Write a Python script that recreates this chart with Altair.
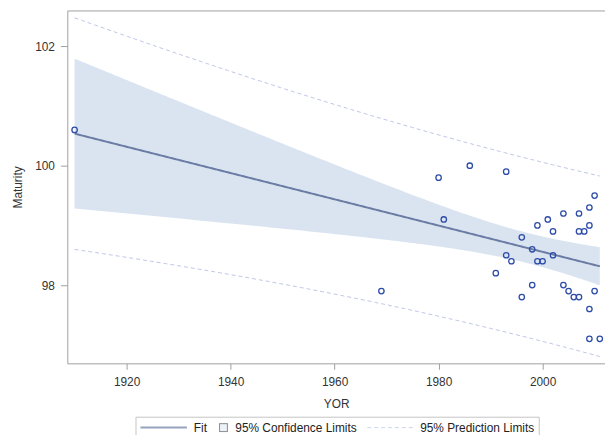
import numpy as np
import pandas as pd
import altair as alt

# ---- data ----
yor = [1910, 1969, 1980, 1981, 1986, 1991, 1993, 1993, 1994, 1996, 1996, 1998,
       1998, 1999, 1999, 2000, 2001, 2002, 2002, 2004, 2004, 2005, 2006, 2007,
       2007, 2007, 2008, 2009, 2009, 2009, 2009, 2010, 2010, 2011]
maturity = [100.6, 97.9, 99.8, 99.1, 100.0, 98.2, 99.9, 98.5, 98.4, 98.8, 97.8, 98.6,
            98.0, 99.0, 98.4, 98.4, 99.1, 98.9, 98.5, 99.2, 98.0, 97.9, 97.8, 97.8,
            99.2, 98.9, 98.9, 99.0, 99.3, 97.6, 97.1, 99.5, 97.9, 97.1]
x_ticks = [1920, 1940, 1960, 1980, 2000]
y_ticks = [98, 100, 102]
legend_names = ["Fit", "95% Confidence Limits", "95% Prediction Limits"]

# ---- linear regression fit with 95% confidence / prediction limits ----
x = np.array(yor, dtype=float)
y = np.array(maturity, dtype=float)
n = len(x)
xbar = x.mean()
sxx = ((x - xbar) ** 2).sum()
b = ((x - xbar) * (y - y.mean())).sum() / sxx
a = y.mean() - b * xbar
s = np.sqrt(((y - a - b * x) ** 2).sum() / (n - 2))
T975 = 2.0369  # t quantile (0.975, df = 32)
grid = np.linspace(x.min(), x.max(), 200)
fit = a + b * grid
se_m = s * np.sqrt(1 / n + (grid - xbar) ** 2 / sxx)
se_p = s * np.sqrt(1 + 1 / n + (grid - xbar) ** 2 / sxx)
fit_df = pd.DataFrame({
    "year": grid, "fit": fit,
    "lclm": fit - T975 * se_m, "uclm": fit + T975 * se_m,
    "lcl": fit - T975 * se_p, "ucl": fit + T975 * se_p,
})
pts_df = pd.DataFrame({"year": yor, "maturity": maturity})
leg_df = pd.DataFrame({"s": legend_names})

FONT = "Liberation Sans"
BAND = "#DAE4F1"
FIT = "#6A7CA3"
PI = "#BCC4E6"
PT = "#2C4CA8"

xscale = alt.Scale(domain=[1908.6, 2012.0], nice=False, zero=False)
yscale = alt.Scale(domain=[96.69, 102.6], nice=False, zero=False)
xaxis = alt.Axis(values=x_ticks, format="d", title="YOR", tickSize=6, labelPadding=7, titlePadding=12)
yaxis = alt.Axis(values=y_ticks, format="d", title="Maturity", tickSize=7, labelPadding=6, titlePadding=10)


def X():
    return alt.X("year:Q", scale=xscale, axis=xaxis)


def Y(field):
    return alt.Y(f"{field}:Q", scale=yscale, axis=yaxis)


band = alt.Chart(fit_df).mark_area(color=BAND, opacity=1).encode(
    x=X(), y=Y("lclm"), y2="uclm")
lpl = alt.Chart(fit_df).mark_line(color=PI, strokeWidth=1, strokeDash=[4, 3]).encode(
    x=X(), y=Y("lcl"))
upl = alt.Chart(fit_df).mark_line(color=PI, strokeWidth=1, strokeDash=[4, 3]).encode(
    x=X(), y=Y("ucl"))
fitline = alt.Chart(fit_df).mark_line(color=FIT, strokeWidth=2).encode(
    x=X(), y=Y("fit"))
points = alt.Chart(pts_df).mark_point(
    shape="circle", filled=False, color=PT, size=30, strokeWidth=1.3, opacity=1
).encode(x=X(), y=Y("maturity"))

leg_scale = dict(domain=legend_names)
legend_layer = alt.Chart(leg_df).mark_point(filled=True, clip=True).encode(
    x=alt.value(-200), y=alt.value(-200),
    shape=alt.Shape("s:N", scale=alt.Scale(range=["stroke", "square", "stroke"], **leg_scale), legend=alt.Legend(title=None)),
    fill=alt.Fill("s:N", scale=alt.Scale(range=["transparent", BAND, "transparent"], **leg_scale), legend=alt.Legend(title=None)),
    stroke=alt.Stroke("s:N", scale=alt.Scale(range=[FIT, "#333333", PI], **leg_scale), legend=alt.Legend(title=None)),
    size=alt.Size("s:N", scale=alt.Scale(type="ordinal", range=[2209, 64, 2209], **leg_scale), legend=alt.Legend(title=None)),
    strokeDash=alt.StrokeDash("s:N", scale=alt.Scale(range=[[1, 0], [1, 0], [4, 3]], **leg_scale), legend=alt.Legend(title=None)),
    strokeWidth=alt.StrokeWidth("s:N", scale=alt.Scale(type="ordinal", range=[2, 1, 1], **leg_scale), legend=alt.Legend(title=None)),
)

chart = alt.layer(band, lpl, upl, fitline, points, legend_layer).properties(
    width=544, height=357,
    autosize=alt.AutoSizeParams(type="none"),
    padding={"left": 60, "top": 0, "right": 0, "bottom": 70},
).configure_view(
    stroke="#A0A0A0", strokeWidth=1
).configure_axis(
    domain=False, grid=False, tickColor="#A0A0A0", tickWidth=1,
    labelFont=FONT, labelFontSize=12, labelColor="#333333",
    titleFont=FONT, titleFontSize=12, titleFontWeight="normal", titleColor="#333333",
).configure_legend(
    orient="none", legendX=69, legendY=411, direction="horizontal",
    padding=4, strokeColor="#C4C4C4", fillColor="white", clipHeight=14,
    labelFont=FONT, labelFontSize=12, labelColor="#222222",
    labelOffset=6, columnPadding=10, symbolOffset=0, labelLimit=0,
)

chart.save("out.html", embed_options={"renderer": "svg", "actions": False})
